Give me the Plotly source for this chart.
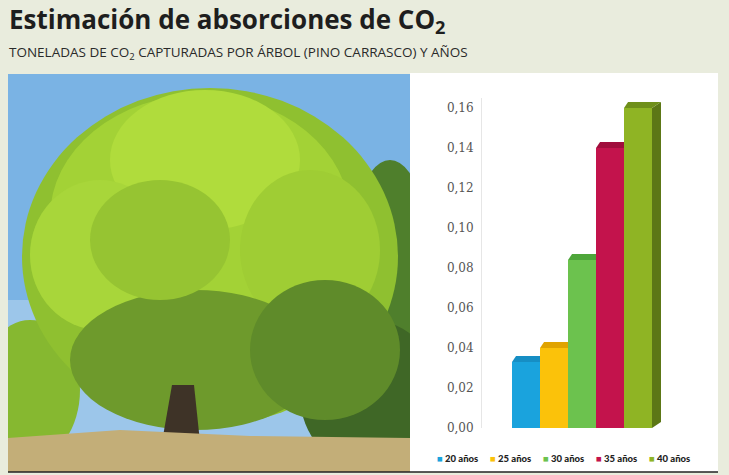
import plotly.graph_objects as go

# ---- data ----
categories = ["20 años", "25 años", "30 años", "35 años", "40 años"]
values = [0.033, 0.040, 0.084, 0.140, 0.160]
front_colors = ["#1aa3dd", "#fbc20a", "#6cc24e", "#c3134c", "#8fb424"]
top_colors = ["#168ec4", "#e0a300", "#4ea63a", "#a00d3c", "#6f8f1a"]
side_colors = ["#1279a8", "#c08c00", "#3f8a2f", "#820a31", "#5c7716"]
y_ticks = [0.00, 0.02, 0.04, 0.06, 0.08, 0.10, 0.12, 0.14, 0.16]

W, H = 729, 475
L, R, T, B = 482, 39, 98, 47
PW, PH = W - L - R, H - T - B

def px(x):  # pixel -> paper x
    return (x - L) / PW

def py(y):  # pixel -> paper y
    return (H - B - y) / PH

xr = [-0.5 - 30 / 28, 4.5 + 38 / 28]
yr = [0, 0.165]
dx = 9 / 28          # depth in x units
dy = 6 / 2000.0      # depth in y units

fig = go.Figure()
for i, (c, v) in enumerate(zip(categories, values)):
    x0, x1 = i - 0.5, i + 0.5
    # side face
    fig.add_trace(go.Scatter(
        x=[x1, x1 + dx, x1 + dx, x1, x1], y=[0, dy, v + dy, v, 0],
        fill="toself", fillcolor=side_colors[i], mode="lines",
        line=dict(width=0, color=side_colors[i]), showlegend=False, hoverinfo="skip"))
    # top face
    fig.add_trace(go.Scatter(
        x=[x0, x1, x1 + dx, x0 + dx * 0.45, x0], y=[v, v, v + dy, v + dy, v],
        fill="toself", fillcolor=top_colors[i], mode="lines",
        line=dict(width=0, color=top_colors[i]), showlegend=False, hoverinfo="skip"))
    # front face
    fig.add_trace(go.Scatter(
        x=[x0, x1, x1, x0, x0], y=[0, 0, v, v, 0],
        fill="toself", fillcolor=front_colors[i], mode="lines",
        line=dict(width=0, color=front_colors[i]), name=c, showlegend=False, hoverinfo="name"))

def rect(x0, y0, x1, y1, col):
    return dict(type="rect", xref="paper", yref="paper", x0=px(x0), x1=px(x1),
                y0=py(y1), y1=py(y0), fillcolor=col, line=dict(width=0), layer="below")

def ell(x0, y0, x1, y1, col):
    return dict(type="circle", xref="paper", yref="paper", x0=px(x0), x1=px(x1),
                y0=py(y1), y1=py(y0), fillcolor=col, line=dict(width=0), layer="below")

shapes = []
# photo substitute (illustrative): sky
shapes.append(rect(8, 74, 410, 472, "#7ab3e4"))
shapes.append(rect(8, 300, 410, 472, "#9cc6ea"))
# background trees on the right and left
shapes.append(ell(340, 160, 440, 480, "#4f7f2c"))
shapes.append(ell(300, 320, 440, 470, "#3f6726"))
shapes.append(ell(-20, 320, 80, 460, "#86b830"))
# canopy
shapes.append(ell(22, 88, 398, 425, "#8fc030"))
shapes.append(ell(50, 95, 350, 340, "#a3d236"))
shapes.append(ell(110, 90, 300, 230, "#b0dc3c"))
shapes.append(ell(30, 180, 170, 330, "#a8d63a"))
shapes.append(ell(240, 170, 380, 330, "#9fcd34"))
shapes.append(ell(70, 290, 320, 430, "#6e9a2c"))
shapes.append(ell(250, 280, 400, 420, "#5f8b2a"))
shapes.append(ell(90, 180, 230, 300, "#96c432"))
# trunk
shapes.append(dict(type="path", xref="paper", yref="paper",
                   path=f"M {px(162)},{py(442)} L {px(172)},{py(385)} L {px(194)},{py(385)} L {px(200)},{py(442)} Z",
                   fillcolor="#3e3327", line=dict(width=0), layer="below"))
# ground grass
shapes.append(dict(type="path", xref="paper", yref="paper",
                   path=f"M {px(8)},{py(472)} L {px(8)},{py(438)} L {px(120)},{py(430)} L {px(250)},{py(436)} L {px(410)},{py(438)} L {px(410)},{py(472)} Z",
                   fillcolor="#c3ae78", line=dict(width=0), layer="below"))
# masks around photo
shapes.append(rect(0, 0, 729, 74, "#e9ecdd"))
shapes.append(rect(0, 0, 8, 475, "#e9ecdd"))
shapes.append(rect(0, 472, 729, 475, "#e9ecdd"))
# white chart panel
shapes.append(rect(410, 73, 718, 472, "#ffffff"))
shapes.append(rect(718, 73, 729, 475, "#e9ecdd"))
# bottom black rule
shapes.append(dict(type="line", xref="paper", yref="paper", x0=px(8), x1=px(718),
                   y0=py(472), y1=py(472), line=dict(color="#222222", width=1.5)))

annotations = [
    dict(text="Estimación de absorciones de CO<sub>2</sub>", xref="paper", yref="paper",
         x=px(7), y=py(20), xanchor="left", yanchor="middle", showarrow=False,
         font=dict(family="Open Sans", size=26, color="#1e1e1e", weight="bold")),
    dict(text="TONELADAS DE CO<sub>2</sub> CAPTURADAS POR ÁRBOL (PINO CARRASCO) Y AÑOS", xref="paper", yref="paper",
         x=px(7), y=py(53), xanchor="left", yanchor="middle", showarrow=False,
         font=dict(family="Open Sans", size=13.5, color="#2a2a2a")),
]
# legend row (text annotations built from the category list)
leg_x = [435, 488, 541, 594, 647]
for c, col, lx in zip(categories, front_colors, leg_x):
    annotations.append(dict(
        text=f"<span style='color:{col}'>■</span> {c}", xref="paper", yref="paper",
        x=px(lx), y=py(458), xanchor="left", yanchor="middle", showarrow=False,
        font=dict(family="Lato", size=9.5, color="#222222", weight=900)))

fig.update_layout(
    width=W, height=H,
    margin=dict(l=L, r=R, t=T, b=B, pad=0, autoexpand=False),
    paper_bgcolor="#e9ecdd", plot_bgcolor="rgba(0,0,0,0)",
    separators=",.",
    showlegend=False,
    shapes=shapes, annotations=annotations,
    xaxis=dict(range=xr, showgrid=False, zeroline=False, showticklabels=False, showline=False,
               fixedrange=True, automargin=False),
    yaxis=dict(range=yr, tickvals=y_ticks, tickformat=".2f", showgrid=False, zeroline=False,
               showline=True, linecolor="#e6e6e6", linewidth=1, ticks="", automargin=False,
               tickfont=dict(family="DejaVu Serif", size=12, color="#555555"), ticklabelstandoff=5),
)

fig.write_html("out.html", config={"displayModeBar": False},
               post_script="document.body.style.margin='0px';document.body.style.overflow='hidden';")
